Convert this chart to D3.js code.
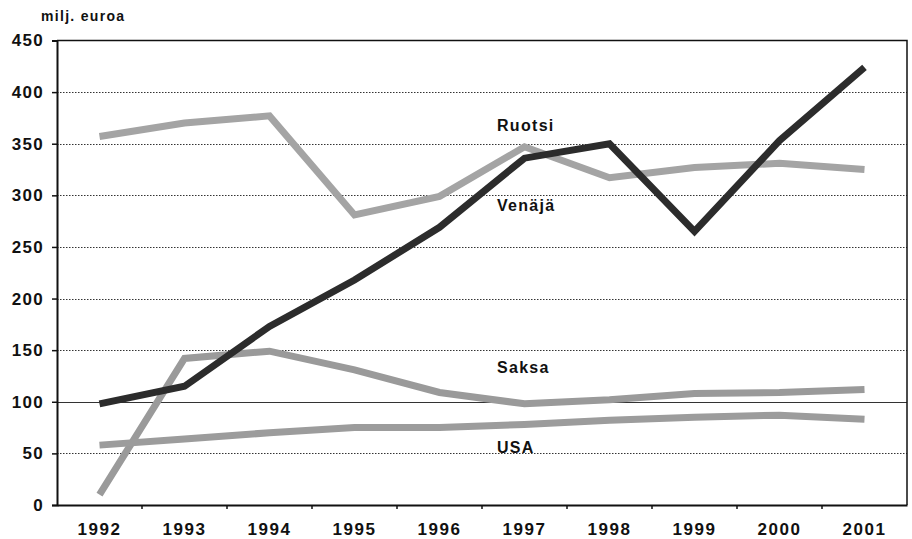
<!DOCTYPE html>
<html lang="fi">
<head>
<meta charset="UTF-8">
<title>milj. euroa</title>
<script src="https://d3js.org/d3.v7.min.js"></script>
<style>
  body { margin: 0; background: #fff; }
  text { font-family: "Liberation Sans", Arial, sans-serif; font-weight: bold; fill: #111; }
</style>
</head>
<body>
<div id="chart"></div>
<script>
// data
var years = ["1992", "1993", "1994", "1995", "1996", "1997", "1998", "1999", "2000", "2001"];
var ruotsi = [357, 370, 377, 281, 299, 347, 317, 327, 331, 325];
var venaja = [98, 115, 173, 218, 269, 336, 350, 265, 353, 424];
var saksa  = [10, 142, 149, 131, 109, 98, 102, 108, 109, 112];
var usa    = [58, 64, 70, 75, 75, 78, 82, 85, 87, 83];
var yTicks = [0, 50, 100, 150, 200, 250, 300, 350, 400, 450];

var series = [
    { name: "Ruotsi", values: ruotsi, color: "#a4a4a4", lx: 497, ly: 131 },
    { name: "Saksa",  values: saksa,  color: "#9a9a9a", lx: 497, ly: 373 },
    { name: "USA",    values: usa,    color: "#9c9c9c", lx: 497, ly: 453 },
    { name: "Venäjä", values: venaja, color: "#2c2c2c", lx: 497, ly: 211 }
];

var width = 912, height = 539;
var plotLeft = 57, plotRight = 907, plotTop = 40.5, plotBottom = 505;

var svg = d3.select("#chart").append("svg")
    .attr("width", width)
    .attr("height", height);

var x = d3.scaleBand().domain(years).range([plotLeft, plotRight]);
var y = d3.scaleLinear().domain([0, 450]).range([plotBottom, plotTop]);

// gridlines
svg.append("g").selectAll("line")
    .data(yTicks.filter(function(d) { return d > 0 && d < 450; }))
    .enter().append("line")
    .attr("x1", plotLeft).attr("x2", plotRight)
    .attr("y1", function(d) { return Math.round(y(d)) + 0.5; })
    .attr("y2", function(d) { return Math.round(y(d)) + 0.5; })
    .attr("stroke", "#333")
    .attr("stroke-width", 1)
    .attr("stroke-dasharray", function(d) { return d === 100 ? null : "1.5,1.5"; });

// top and right border
svg.append("path")
    .attr("d", "M" + plotLeft + "," + plotTop + "H" + plotRight + "V" + plotBottom)
    .attr("fill", "none")
    .attr("stroke", "#111")
    .attr("stroke-width", 1.5);

// y axis
var yAxis = svg.append("g")
    .attr("transform", "translate(" + plotLeft + ",0)")
    .call(d3.axisLeft(y).tickValues(yTicks).tickSize(5).tickPadding(8));
yAxis.select(".domain").attr("stroke", "#111").attr("stroke-width", 2);
yAxis.selectAll(".tick line").attr("stroke", "#111").attr("stroke-width", 1.5);
yAxis.selectAll("text")
    .style("font-size", "17px")
    .style("letter-spacing", "1.3px")
    .attr("fill", "#111");

// x axis
var xAxis = svg.append("g")
    .attr("transform", "translate(0," + plotBottom + ")")
    .call(d3.axisBottom(x).tickSize(0).tickPadding(18));
xAxis.select(".domain").attr("stroke", "#111").attr("stroke-width", 2);
xAxis.selectAll("text")
    .style("font-size", "17px")
    .style("letter-spacing", "1.6px")
    .attr("fill", "#111");

// category boundary ticks
svg.append("g").selectAll("line")
    .data(years.slice(1))
    .enter().append("line")
    .attr("x1", function(d) { return x(d); })
    .attr("x2", function(d) { return x(d); })
    .attr("y1", plotBottom).attr("y2", plotBottom + 4)
    .attr("stroke", "#111").attr("stroke-width", 1.5);

// series lines
var line = d3.line()
    .x(function(d, i) { return x(years[i]) + x.bandwidth() / 2; })
    .y(function(d) { return y(d); });

svg.append("g").selectAll("path")
    .data(series)
    .enter().append("path")
    .attr("d", function(d) { return line(d.values); })
    .attr("fill", "none")
    .attr("stroke", function(d) { return d.color; })
    .attr("stroke-width", 7)
    .attr("stroke-linejoin", "miter")
    .attr("stroke-linecap", "butt");

// series labels
svg.append("g").selectAll("text")
    .data(series)
    .enter().append("text")
    .attr("x", function(d) { return d.lx; })
    .attr("y", function(d) { return d.ly; })
    .style("font-size", "16px")
    .style("letter-spacing", "1.3px")
    .text(function(d) { return d.name; });

// unit label
svg.append("text")
    .attr("x", 41)
    .attr("y", 21)
    .style("font-size", "14px")
    .style("letter-spacing", "1.3px")
    .text("milj. euroa");
</script>
</body>
</html>
